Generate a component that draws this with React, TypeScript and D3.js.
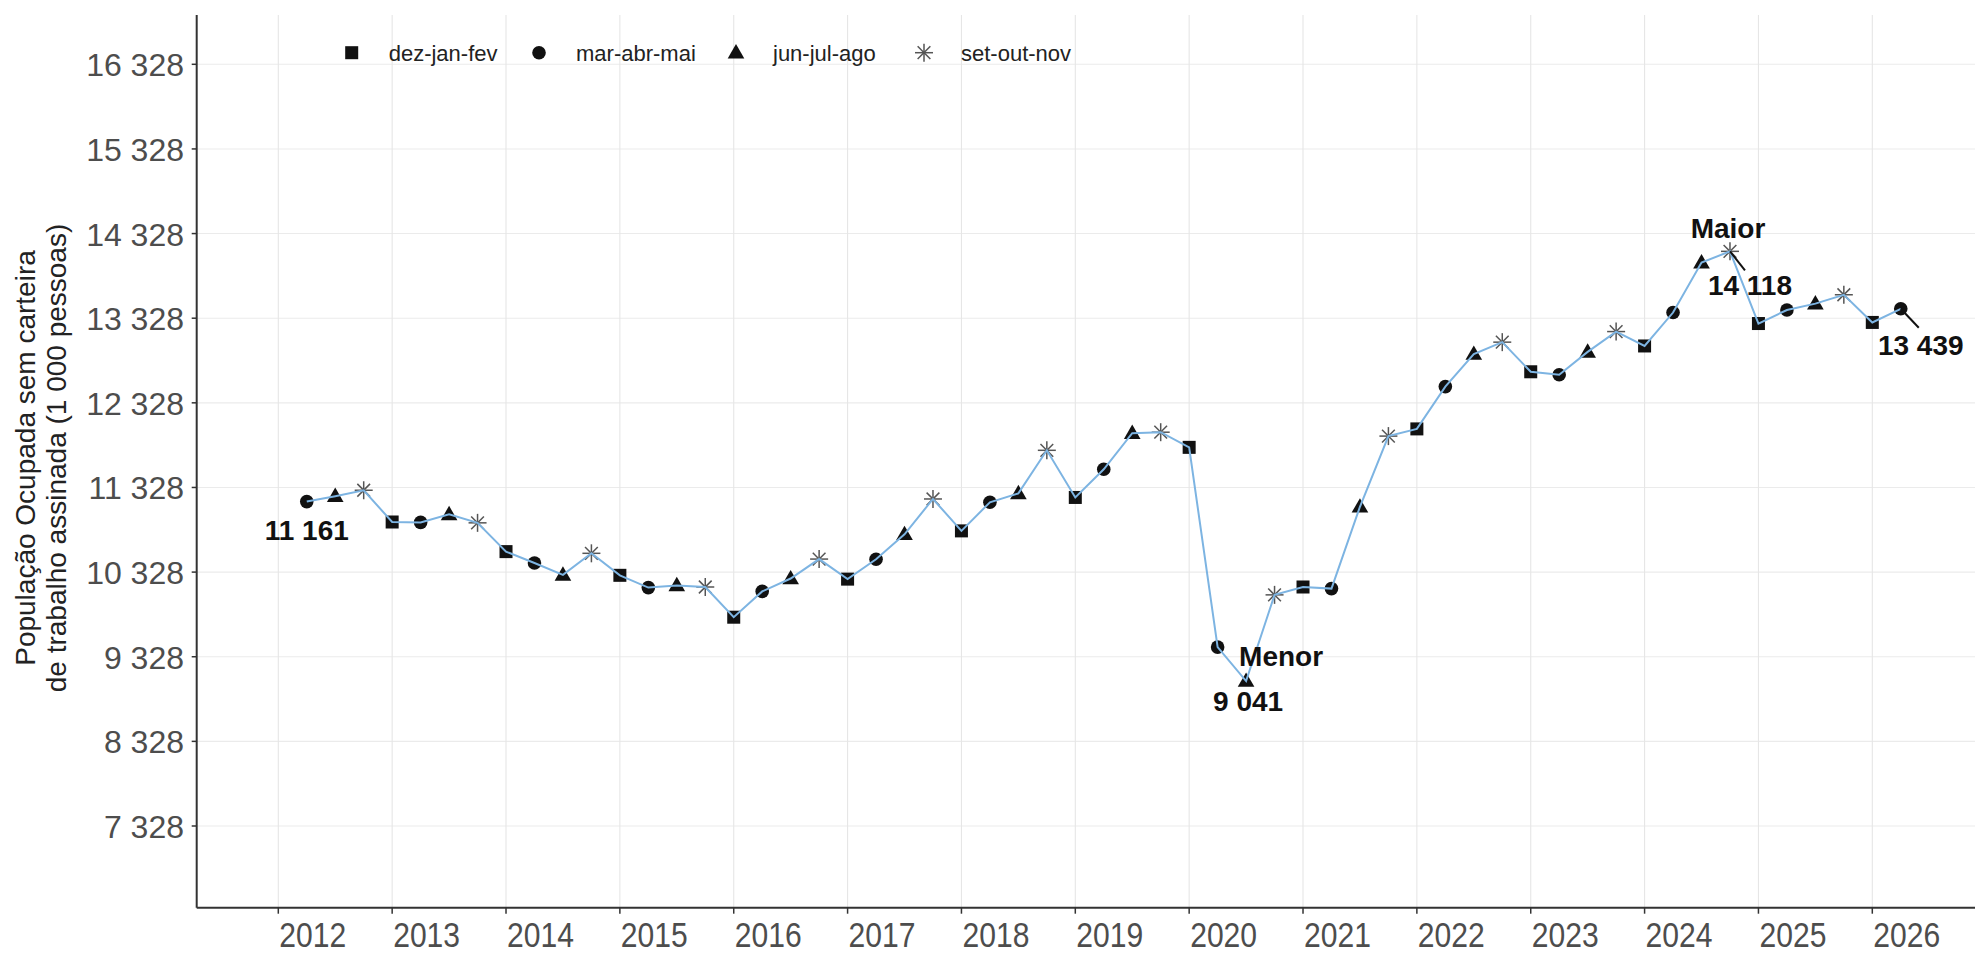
import React from 'react';
import * as d3 from 'd3';

const xTickLabels = ['2012','2013','2014','2015','2016','2017','2018','2019','2020','2021','2022','2023','2024','2025','2026'];
const yTicks = [7328, 8328, 9328, 10328, 11328, 12328, 13328, 14328, 15328, 16328];
const seasons = ['dez-jan-fev', 'mar-abr-mai', 'jun-jul-ago', 'set-out-nov'];
const shapes = ['square', 'circle', 'triangle', 'star'];

// values per year (2012..2026) for each season
const djf = [null, 10920, 10570, 10290, 9795, 10245, 10815, 11210, 11802, 10152, 12020, 12695, 13000, 13265, 13278];
const mam = [11161, 10915, 10435, 10145, 10100, 10480, 11153, 11543, 9442, 10133, 12520, 12660, 13395, 13425, 13439];
const jja = [11225, 11010, 10295, 10170, 10252, 10775, 11258, 11970, 9041, 11100, 12905, 12930, 13985, 13500, null];
const son = [11295, 10910, 10550, 10152, 10482, 11192, 11767, 11981, 10059, 11935, 13045, 13170, 14118, 13605, null];

const seriesBySeason = [djf, mam, jja, son];

const W = 1975, H = 957;
const FONT = '"Liberation Sans", Arial, Helvetica, sans-serif';

type Pt = { t: number; v: number; s: number };

function buildPoints(): Pt[] {
  const pts: Pt[] = [];
  xTickLabels.forEach((lab, i) => {
    seriesBySeason.forEach((arr, s) => {
      const v = arr[i];
      if (v != null) pts.push({ t: +lab + s * 0.25, v, s });
    });
  });
  return pts.sort((a, b) => a.t - b.t);
}

const fmt = (v: number) => d3.format(',')(v).replace(/,/g, ' ');

function Marker({ shape, x, y }: { shape: string; x: number; y: number }) {
  if (shape === 'square') return <rect x={x - 6.5} y={y - 6.5} width={13} height={13} fill="#111" />;
  if (shape === 'circle') return <circle cx={x} cy={y} r={6.8} fill="#111" />;
  if (shape === 'triangle') {
    const p = d3.symbol(d3.symbolTriangle, 120)();
    return <path d={p || ''} transform={`translate(${x},${y + 1})`} fill="#111" />;
  }
  const r = 9;
  const segs: JSX.Element[] = [];
  for (let k = 0; k < 4; k++) {
    const a = (k * Math.PI) / 4;
    segs.push(
      <line key={k} x1={x - r * Math.cos(a)} y1={y - r * Math.sin(a)} x2={x + r * Math.cos(a)} y2={y + r * Math.sin(a)} stroke="#555" strokeWidth={1.5} />
    );
  }
  return <g>{segs}</g>;
}

export default function App() {
  const pts = buildPoints();
  const left = 196.7, right = 1975, top = 15, bottom = 907.7;
  const x = d3.scaleLinear().domain([+xTickLabels[0], +xTickLabels[xTickLabels.length - 1]]).range([278.3, 1872.3]);
  const y = d3.scaleLinear().domain([yTicks[0], yTicks[yTicks.length - 1]]).range([826, 64.3]);
  const line = d3.line<Pt>().x(d => x(d.t)).y(d => y(d.v));

  const first = pts[0];
  const last = pts[pts.length - 1];
  const minP = pts.reduce((a, b) => (b.v < a.v ? b : a));
  const maxP = pts.reduce((a, b) => (b.v > a.v ? b : a));

  const legendX = [351.7, 539, 736, 924];

  return (
    <svg width={W} height={H} style={{ position: 'absolute', left: 0, top: 0, background: '#fff' }} fontFamily={FONT}>
      <rect x={0} y={0} width={W} height={H} fill="#fff" />
      {/* grid */}
      {yTicks.map(t => (
        <line key={'gy' + t} x1={left} x2={right} y1={y(t)} y2={y(t)} stroke="#ebebeb" strokeWidth={1.1} />
      ))}
      {xTickLabels.map(l => (
        <line key={'gx' + l} x1={x(+l)} x2={x(+l)} y1={top} y2={bottom} stroke="#e6e6e6" strokeWidth={1.1} />
      ))}
      {/* axes */}
      <line x1={left} x2={left} y1={top} y2={bottom} stroke="#333" strokeWidth={2} />
      <line x1={left} x2={right} y1={bottom} y2={bottom} stroke="#333" strokeWidth={2} />
      {yTicks.map(t => (
        <g key={'ty' + t}>
          <line x1={left - 5} x2={left} y1={y(t)} y2={y(t)} stroke="#333" strokeWidth={1.5} />
          <text x={184} y={y(t) + 12} textAnchor="end" fontSize={32} fill="#4d4d4d">{fmt(t)}</text>
        </g>
      ))}
      {xTickLabels.map(l => (
        <g key={'tx' + l}>
          <line x1={x(+l)} x2={x(+l)} y1={bottom} y2={bottom + 6} stroke="#333" strokeWidth={1.5} />
          <text x={x(+l) + 1} y={947} textAnchor="start" fontSize={35} fill="#4d4d4d" transform={`translate(${x(+l) + 1},0) scale(0.86,1) translate(${-(x(+l) + 1)},0)`}>{l}</text>
        </g>
      ))}
      {/* y title */}
      <g fontSize={28} fill="#222">
        <text transform={`translate(35,458) rotate(-90)`} textAnchor="middle">População Ocupada sem carteira</text>
        <text transform={`translate(66,458) rotate(-90)`} textAnchor="middle">de trabalho assinada (1 000 pessoas)</text>
      </g>
      {/* legend */}
      {seasons.map((s, i) => (
        <g key={s}>
          <Marker shape={shapes[i]} x={legendX[i]} y={52.7} />
          <text x={legendX[i] + 37} y={60.5} fontSize={22} fill="#222">{s}</text>
        </g>
      ))}
      {/* markers */}
      {pts.map((p, i) => (
        <Marker key={i} shape={shapes[p.s]} x={x(p.t)} y={y(p.v)} />
      ))}
      {/* line */}
      <path d={line(pts) || ''} fill="none" stroke="#7db4e2" strokeWidth={2} />
      {/* annotations */}
      <g fontSize={28} fontWeight="bold" fill="#111" textAnchor="middle">
        <text x={x(first.t)} y={y(first.v) + 38}>{fmt(first.v)}</text>
        <text x={x(minP.t) + 35} y={y(minP.v) - 15}>Menor</text>
        <text x={x(minP.t) + 2} y={y(minP.v) + 30}>{fmt(minP.v)}</text>
        <text x={x(maxP.t) - 2} y={y(maxP.v) - 13}>Maior</text>
        <line x1={x(maxP.t)} y1={y(maxP.v)} x2={x(maxP.t) + 15} y2={y(maxP.v) + 19} stroke="#111" strokeWidth={2} />
        <text x={x(maxP.t) + 20} y={y(maxP.v) + 44}>{fmt(maxP.v)}</text>
        <line x1={x(last.t)} y1={y(last.v)} x2={x(last.t) + 18} y2={y(last.v) + 19} stroke="#111" strokeWidth={2} />
        <text x={x(last.t) + 20} y={y(last.v) + 46}>{fmt(last.v)}</text>
      </g>
    </svg>
  );
}
